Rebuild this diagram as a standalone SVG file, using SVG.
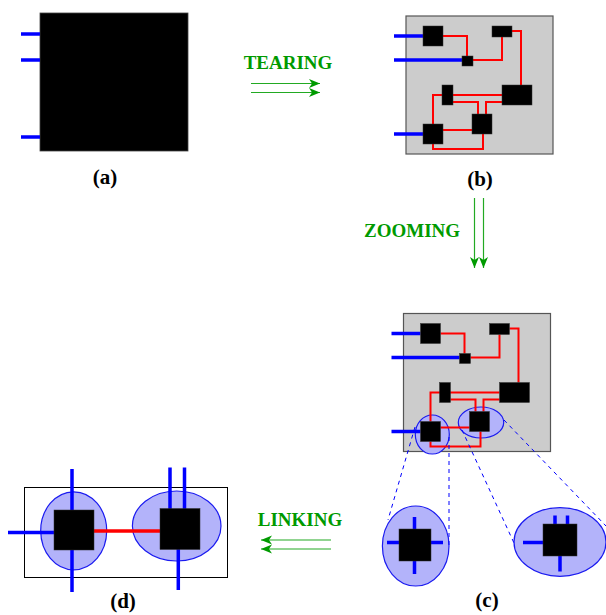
<svg xmlns="http://www.w3.org/2000/svg" xmlns:xlink="http://www.w3.org/1999/xlink" width="606" height="615" viewBox="0 0 606 615">
<style>
.box{fill:#000;stroke:#333;stroke-width:0.5}
.blue{stroke:#0000ff;stroke-width:3.5;fill:none}
.red{stroke:#ff0000;stroke-width:2;fill:none}
.redT{stroke:#ff0000;stroke-width:3.5;fill:none}
.ell{fill:#b3b3fa;stroke:#1a1af0;stroke-width:1.2}
.dash{stroke:#0000ff;stroke-width:1;stroke-dasharray:4,4;fill:none}
.gray{fill:#cccccc;stroke:#555;stroke-width:1.2}
.lbl{font-family:"Liberation Serif",serif;font-weight:bold;font-size:21px;fill:#000;text-anchor:middle}
.op{font-family:"Liberation Serif",serif;font-weight:bold;font-size:19px;fill:#009a00;text-anchor:middle}
.arr{stroke:#22aa22;stroke-width:1.2;fill:none}
</style>
<defs>
<marker id="ah" markerUnits="userSpaceOnUse" markerWidth="12" markerHeight="10" refX="11" refY="5" orient="auto">
<path d="M0,0.5 L11,5 L0,9.5 L3,5 z" fill="#009a00"/>
</marker>
<g id="wires">
<path class="red" d="M443,36 H467 V56"/>
<path class="red" d="M473,60 H502 V37"/>
<path class="red" d="M512,31 H521 V85"/>
<path class="red" d="M433,124 V95 H502"/>
<path class="red" d="M453,102 H478 V114"/>
<path class="red" d="M502,102 H486 V114"/>
<path class="red" d="M443,130 H472"/>
<path class="red" d="M433,144 V149 H483 V134"/>
<path class="blue" d="M394,36 H423 M394,60 H462 M394,134 H423"/>
<rect class="box" x="423" y="26" width="20" height="20"/>
<rect class="box" x="462" y="56" width="11" height="10"/>
<rect class="box" x="492" y="26" width="20" height="11"/>
<rect class="box" x="502" y="85" width="30" height="20"/>
<rect class="box" x="442" y="85" width="11" height="20"/>
<rect class="box" x="472" y="114" width="20" height="20"/>
<rect class="box" x="423" y="124" width="20" height="20"/>
</g>
</defs>

<g id="a">
<rect x="40" y="13" width="148" height="138" fill="#000" stroke="#444" stroke-width="0.8"/>
<path class="blue" d="M21,34 H40 M21,60 H40 M21,137 H40"/>
<text class="lbl" x="105" y="184">(a)</text>
</g>

<g id="b">
<rect class="gray" x="406" y="16" width="147" height="138"/>
<use xlink:href="#wires"/>
<text class="lbl" x="480" y="186">(b)</text>
</g>

<g id="c">
<rect class="gray" x="403.5" y="313.5" width="147" height="138"/>
<ellipse class="ell" cx="432.3" cy="434.5" rx="17" ry="19.5"/>
<ellipse class="ell" cx="481" cy="422.5" rx="22.7" ry="15.5"/>
<use xlink:href="#wires" transform="translate(-2.5,297.5)"/>
<text class="lbl" x="487" y="607">(c)</text>
</g>

<g id="c-zoom1">
<ellipse class="ell" cx="415.7" cy="546" rx="33.3" ry="40"/>
<path class="blue" d="M414.5,517 V574 M387,542.5 H443"/>
<rect class="box" x="399" y="529" width="32" height="32"/>
</g>

<g id="c-zoom2">
<ellipse class="ell" cx="560" cy="542" rx="46" ry="34.3"/>
<path class="blue" d="M555,515.5 V530 M567.5,515.5 V530 M560,550 V571.5 M523,542.5 H550"/>
<rect class="box" x="543" y="524" width="34" height="32"/>
</g>

<g id="d">
<rect x="24.5" y="487.5" width="203" height="90" fill="none" stroke="#000" stroke-width="1"/>
<ellipse class="ell" cx="73.7" cy="530.8" rx="33" ry="39"/>
<ellipse class="ell" cx="176.7" cy="526" rx="44.3" ry="35"/>
<path class="blue" d="M72,469 V592 M8,532.5 H60 M170,467.5 V515 M184.5,467.5 V515 M178.3,540 V590"/>
<path class="redT" d="M94,531 H160"/>
<rect class="box" x="54" y="510" width="40" height="40"/>
<rect class="box" x="160" y="508.5" width="40" height="41"/>
<text class="lbl" x="123" y="608">(d)</text>
</g>

<g id="connectors">
<path class="dash" d="M415,427 L388,520"/>
<path class="dash" d="M449,437 L449,546"/>
<path class="dash" d="M462,430 L514,543"/>
<path class="dash" d="M504,420 L606,526"/>
<path class="arr" d="M251,83.5 H320" marker-end="url(#ah)"/>
<path class="arr" d="M251,92.5 H320" marker-end="url(#ah)"/>
<text class="op" x="288" y="69">TEARING</text>
<path class="arr" d="M474.5,198 V268" marker-end="url(#ah)"/>
<path class="arr" d="M483.5,198 V268" marker-end="url(#ah)"/>
<text class="op" x="412" y="236.5">ZOOMING</text>
<path class="arr" d="M331,540 H261" marker-end="url(#ah)"/>
<path class="arr" d="M331,549 H261" marker-end="url(#ah)"/>
<text class="op" x="300" y="525.5">LINKING</text>
</g>
</svg>
